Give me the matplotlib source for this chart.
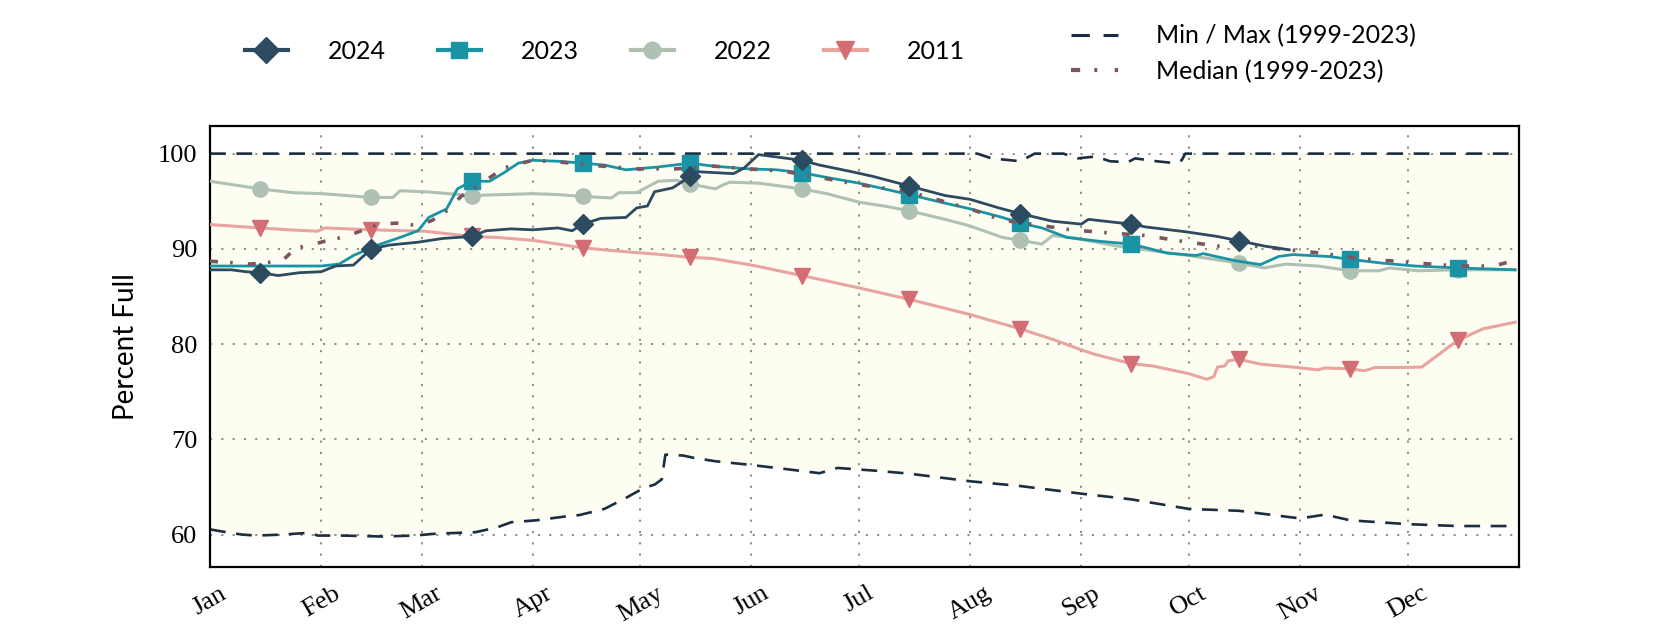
import numpy as np
import matplotlib
matplotlib.use("Agg")
from matplotlib import pyplot as plt
from matplotlib.lines import Line2D

# day of year (0 = Jan 1) and percent full
days_2024 = [0, 6, 10, 14, 19, 25, 31, 35, 40, 45, 50, 58, 65, 73, 77, 84, 90, 97, 101, 104,
             109, 116, 119, 122, 124, 129, 134, 136, 146, 149, 153, 157, 165, 170, 179, 185,
             195, 205, 212, 220, 226, 235, 243, 245, 252, 257, 261, 272, 281, 287, 294, 301]
vals_2024 = [87.8, 87.8, 87.6, 87.5, 87.2, 87.5, 87.6, 88.2, 88.3, 90.0, 90.4, 90.7, 91.1, 91.3,
             91.9, 92.1, 92.0, 92.2, 91.9, 92.6, 93.2, 93.3, 94.3, 94.5, 96.0, 96.4, 97.6, 98.1,
             97.9, 98.5, 99.9, 99.7, 99.3, 98.8, 98.1, 97.6, 96.6, 95.6, 95.2, 94.3, 93.7, 92.9,
             92.6, 93.1, 92.8, 92.6, 92.3, 91.8, 91.3, 90.85, 90.3, 89.9]

days_2023 = [0, 13, 22, 31, 36, 40, 43, 46, 53, 58, 61, 66, 69, 73, 78, 82, 86, 90, 97, 104,
             110, 116, 125, 134, 140, 150, 158, 165, 172, 181, 188, 195, 205, 212, 221, 226,
             232, 239, 248, 257, 267, 275, 277, 286, 293, 298, 302, 312, 318, 327, 336, 348, 364]
vals_2023 = [88.2, 88.2, 88.2, 88.2, 88.4, 89.3, 89.8, 90.3, 91.2, 91.9, 93.3, 94.2, 96.3, 97.1,
             97.1, 98.0, 99.0, 99.3, 99.2, 99.0, 98.8, 98.3, 98.6, 99.0, 98.7, 98.4, 98.3, 98.0,
             97.5, 96.9, 96.3, 95.7, 94.8, 94.2, 93.3, 92.7, 92.2, 91.2, 90.8, 90.5, 89.55, 89.3,
             89.5, 88.75, 88.35, 89.2, 89.4, 89.2, 88.9, 88.5, 88.2, 88.0, 87.8]

days_2022 = [0, 14, 23, 31, 45, 51, 53, 60, 73, 90, 97, 104, 112, 114, 119, 125, 130, 134, 141,
             143, 145, 153, 165, 172, 181, 188, 195, 205, 212, 221, 226, 232, 235, 240, 253, 273,
             287, 294, 300, 309, 318, 326, 329, 337, 348, 364]
vals_2022 = [97.1, 96.3, 95.9, 95.8, 95.4, 95.4, 96.1, 96.0, 95.6, 95.8, 95.7, 95.5, 95.35, 95.9,
             95.9, 97.1, 97.2, 96.8, 96.3, 96.7, 97.0, 96.9, 96.3, 95.8, 94.9, 94.5, 94.0, 93.1,
             92.4, 91.2, 90.9, 90.5, 91.4, 91.2, 90.3, 89.3, 88.5, 88.0, 88.4, 88.2, 87.7, 87.7,
             88.0, 87.7, 87.8, 87.8]

days_2011 = [0, 14, 22, 30, 32, 45, 60, 73, 80, 90, 98, 104, 116, 126, 134, 140, 151, 165, 170,
             181, 195, 212, 226, 235, 243, 247, 257, 263, 273, 278, 280, 281, 283, 284, 287, 293,
             303, 309, 311, 318, 322, 325, 334, 338, 343, 348, 355, 364]
vals_2011 = [92.55, 92.2, 92.0, 91.85, 92.2, 92.0, 91.85, 91.3, 91.2, 90.9, 90.45, 90.1, 89.7,
             89.4, 89.1, 89.0, 88.3, 87.2, 86.8, 85.9, 84.7, 83.1, 81.6, 80.5, 79.4, 78.9, 77.95,
             77.7, 76.9, 76.3, 76.6, 77.6, 77.7, 78.25, 78.4, 77.9, 77.55, 77.3, 77.5, 77.4, 77.2,
             77.55, 77.55, 77.6, 79.0, 80.4, 81.6, 82.3]

days_med = [0, 6, 11, 20, 24, 28, 33, 38, 47, 52, 58, 62, 66, 70, 75, 82, 90, 98, 109, 119, 130,
            140, 150, 160, 170, 180, 195, 212, 221, 230, 240, 250, 261, 271, 281, 291, 301, 310,
            320, 331, 337, 348, 358, 364]
vals_med = [88.7, 88.55, 88.4, 88.7, 90.1, 90.4, 90.9, 91.3, 92.6, 92.7, 92.45, 93.0, 94.0, 95.5,
            96.7, 98.5, 99.3, 99.1, 98.7, 98.4, 98.4, 98.7, 98.4, 98.15, 97.5, 96.8, 96.0, 94.2,
            93.0, 92.55, 92.0, 91.7, 91.4, 90.8, 90.3, 90.3, 89.9, 89.55, 89.0, 88.7, 88.5, 88.2,
            88.2, 88.8]

days_max = [0, 214, 218, 226, 230, 238, 242, 247, 251, 256, 258, 264, 269, 271, 272, 364]
vals_max = [100, 100, 99.5, 99.2, 100, 100, 99.5, 99.7, 99.2, 99.1, 99.5, 99.2, 99.0, 99.3, 100, 100]

days_min = [0, 3, 9, 13, 20, 28, 30, 37, 48, 57, 63, 74, 80, 84, 91, 100, 103, 110, 116, 121,
            124, 126, 127, 132, 135, 141, 150, 158, 170, 175, 186, 195, 212, 226, 243, 257, 273,
            287, 304, 311, 318, 334, 348, 364]
vals_min = [60.55, 60.35, 60.0, 59.9, 60.0, 60.2, 59.9, 59.9, 59.8, 59.9, 60.1, 60.25, 60.75, 61.3,
            61.5, 61.95, 62.05, 62.7, 63.85, 64.9, 65.25, 65.8, 68.4, 68.3, 68.05, 67.7, 67.35,
            67.0, 66.45, 67.0, 66.7, 66.4, 65.6, 65.1, 64.3, 63.7, 62.7, 62.5, 61.7, 62.1, 61.5,
            61.1, 60.9, 60.9]

month_starts = [0, 31, 59, 90, 120, 151, 181, 212, 243, 273, 304, 334]
month_names = ['Jan', 'Feb', 'Mar', 'Apr', 'May', 'Jun', 'Jul', 'Aug', 'Sep', 'Oct', 'Nov', 'Dec']
mid_month = [d + 14 for d in month_starts]

SANS = ['Lato', 'DejaVu Sans']
SERIF = ['Liberation Serif', 'DejaVu Serif']

fig = plt.figure(figsize=(16.8, 6.3), dpi=100)
ax = fig.add_axes([0.125, 0.1, 0.779, 0.7])

# cream band between min and max
poly_x = days_max + days_min[::-1]
poly_y = vals_max + vals_min[::-1]
ax.fill(poly_x, poly_y, color='#fdfdf1', zorder=0, lw=0)

def marks(days):
    return [i for i, d in enumerate(days) if d in mid_month]

mm_style = dict(color='#1b2d40', lw=1.9, dashes=(6, 4), zorder=2)
ax.plot(days_max, vals_max, **mm_style)
ax.plot(days_min, vals_min, **mm_style)

ax.plot(days_2011, vals_2011, color='#e8a5a0', lw=2.2, marker='v', ms=11,
        mfc='#d36d74', mec='#d36d74', markevery=marks(days_2011), zorder=3)
ax.plot(days_2022, vals_2022, color='#aec1b3', lw=2.2, marker='o', ms=11,
        markevery=marks(days_2022), zorder=4)
ax.plot(days_2023, vals_2023, color='#1a93a5', lw=2.0, marker='s', ms=11,
        markevery=marks(days_2023), zorder=5)
ax.plot(days_med, vals_med, color='#7d5560', lw=2.6, dashes=(2.2, 3.4, 0.7, 4.2), zorder=6)
ax.plot(days_2024, vals_2024, color='#2c4a60', lw=2.0, marker='D', ms=10.5,
        markevery=marks(days_2024), zorder=7)

ax.set_xlim(0, 365)
ax.set_ylim(56.6, 102.9)
ax.set_xticks(month_starts)
ax.set_xticklabels(month_names, rotation=30, fontsize=19, family=SERIF)
ax.set_yticks([60, 70, 80, 90, 100])
ax.set_yticklabels(['60', '70', '80', '90', '100'], fontsize=19, family=SERIF)
ax.tick_params(length=0, pad=9)
ax.tick_params(axis='x', pad=11)
ax.set_ylabel('Percent Full', fontsize=20, family=SANS, labelpad=14)
ax.grid(True, color='#6f6f6f', lw=1.1, linestyle=(0, (1.4, 6)))
ax.set_axisbelow(True)
for s in ax.spines.values():
    s.set_linewidth(1.6)
    s.set_color('black')

h1 = [Line2D([], [], color='#2c4a60', lw=3, marker='D', ms=13),
      Line2D([], [], color='#1a93a5', lw=3, marker='s', ms=12),
      Line2D([], [], color='#aec1b3', lw=3, marker='o', ms=12),
      Line2D([], [], color='#e8a5a0', lw=3, marker='v', ms=13, mfc='#d36d74', mec='#d36d74')]
leg1 = fig.legend(h1, ['2024', '2023', '2022', '2011'], ncol=4, loc='center',
                  bbox_to_anchor=(0.36, 0.919), frameon=False, handlelength=1.7,
                  handletextpad=1.6, columnspacing=2.1, prop={'family': SANS, 'size': 18})

h2 = [Line2D([], [], color='#1b2d40', lw=2.2, dashes=(6, 4.5)),
      Line2D([], [], color='#7d5560', lw=3, dashes=(2.2, 3.4, 0.7, 4.2))]
leg2 = fig.legend(h2, ['Min / Max (1999-2023)', 'Median (1999-2023)'], ncol=1, loc='center',
                  bbox_to_anchor=(0.74, 0.915), frameon=False, handlelength=1.9,
                  handletextpad=1.5, labelspacing=0.5, prop={'family': SANS, 'size': 18})

fig.savefig('out.png', dpi=100)
